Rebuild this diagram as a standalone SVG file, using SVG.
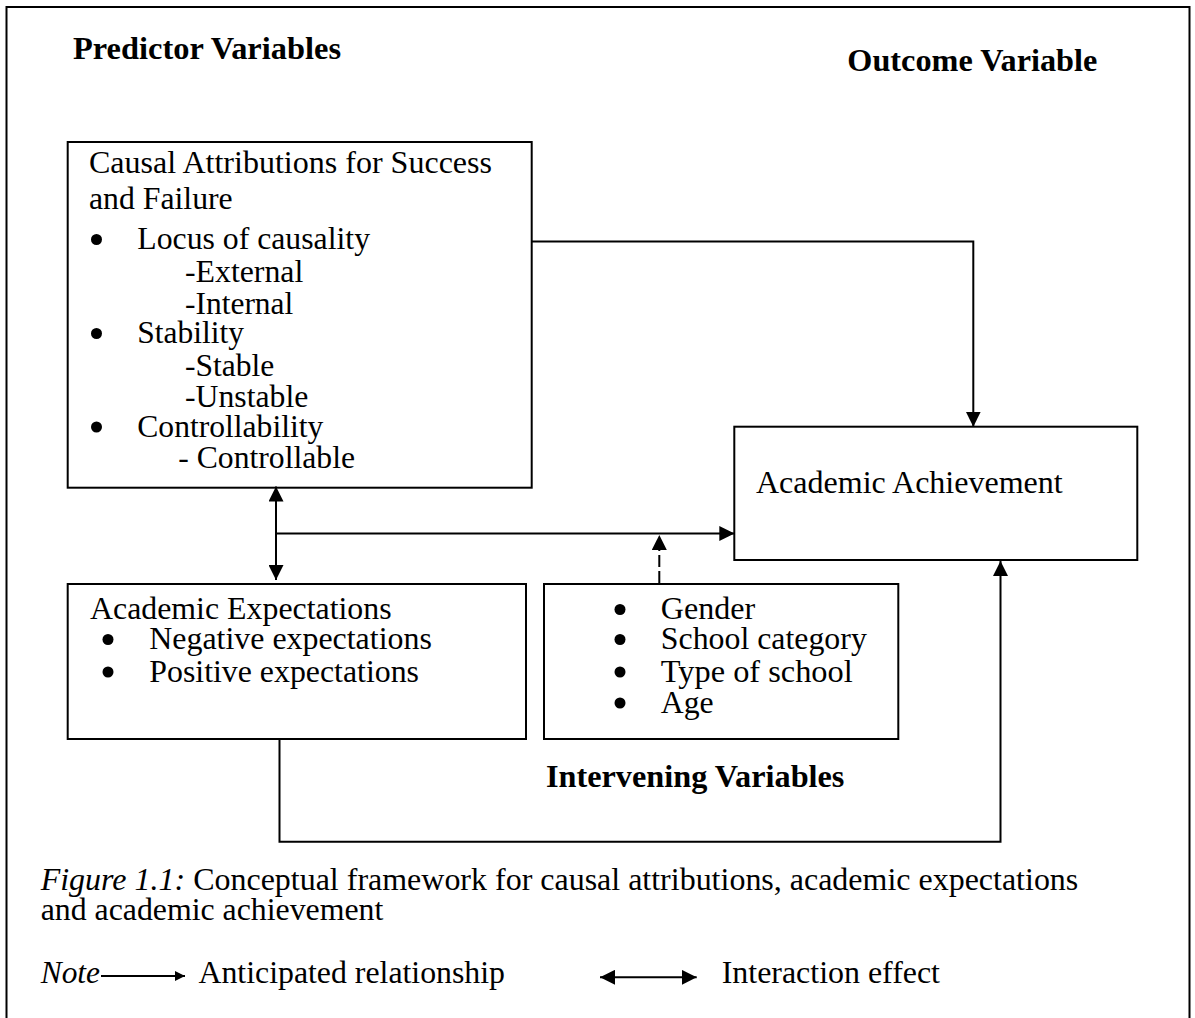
<svg xmlns="http://www.w3.org/2000/svg" width="1195" height="1018" viewBox="0 0 1195 1018">
<style>
text{font-family:"Liberation Serif","Times New Roman",serif;font-size:32px;fill:#000}
.b{font-weight:bold}
.i{font-style:italic}
.box{fill:#fff;stroke:#000;stroke-width:2}
.c{fill:none;stroke:#000;stroke-width:2}
.dot{fill:#000}
</style>
<defs>
<marker id="ah" markerUnits="userSpaceOnUse" markerWidth="15" markerHeight="15" refX="15" refY="7.5" orient="auto-start-reverse" viewBox="0 0 15 15">
<path d="M0,0 L15,7.5 L0,15 Z" fill="#000"/>
</marker>
<marker id="ahs" markerUnits="userSpaceOnUse" markerWidth="10" markerHeight="10" refX="10" refY="5" orient="auto" viewBox="0 0 10 10">
<path d="M0,0 L10,5 L0,10 Z" fill="#000"/>
</marker>
</defs>
<rect x="0" y="0" width="1195" height="1018" fill="#fff"/>
<path d="M6.5,1030 V7 H1189.5 V1030" fill="none" stroke="#000" stroke-width="2"/>

<g id="headings">
<text class="b" x="73" y="59" textLength="268" lengthAdjust="spacingAndGlyphs">Predictor Variables</text>
<text class="b" x="847.3" y="71" textLength="250" lengthAdjust="spacingAndGlyphs">Outcome Variable</text>
<text class="b" x="546" y="786.7" textLength="298.4" lengthAdjust="spacingAndGlyphs">Intervening Variables</text>
</g>

<g id="causal-attributions">
<rect class="box" x="67.7" y="142" width="464" height="345.7"/>
<text x="89" y="173.3" textLength="403" lengthAdjust="spacingAndGlyphs">Causal Attributions for Success</text>
<text x="89" y="209.3" textLength="143.7" lengthAdjust="spacingAndGlyphs">and Failure</text>
<circle class="dot" cx="96.5" cy="239.5" r="5.5"/>
<text x="137.3" y="249.3" textLength="232.7" lengthAdjust="spacingAndGlyphs">Locus of causality</text>
<text x="185" y="281.7" textLength="118.3" lengthAdjust="spacingAndGlyphs">-External</text>
<text x="185" y="314" textLength="108.3" lengthAdjust="spacingAndGlyphs">-Internal</text>
<circle class="dot" cx="96.5" cy="333.5" r="5.5"/>
<text x="137.3" y="343.3" textLength="106.7" lengthAdjust="spacingAndGlyphs">Stability</text>
<text x="185" y="376" textLength="89.3" lengthAdjust="spacingAndGlyphs">-Stable</text>
<text x="185" y="406.7" textLength="123.3" lengthAdjust="spacingAndGlyphs">-Unstable</text>
<circle class="dot" cx="96.5" cy="427" r="5.5"/>
<text x="137.3" y="436.7" textLength="186" lengthAdjust="spacingAndGlyphs">Controllability</text>
<text x="178.3" y="468.3" textLength="176.7" lengthAdjust="spacingAndGlyphs">- Controllable</text>
</g>

<g id="academic-achievement">
<rect class="box" x="734.3" y="426.7" width="403" height="133.3"/>
<text x="756" y="493.3" textLength="306.7" lengthAdjust="spacingAndGlyphs">Academic Achievement</text>
</g>

<g id="academic-expectations">
<rect class="box" x="67.7" y="584" width="458.3" height="155"/>
<text x="90" y="619.3" textLength="301.6" lengthAdjust="spacingAndGlyphs">Academic Expectations</text>
<circle class="dot" cx="108" cy="639.5" r="5.5"/>
<text x="149.3" y="649.3" textLength="282.5" lengthAdjust="spacingAndGlyphs">Negative expectations</text>
<circle class="dot" cx="108" cy="672" r="5.5"/>
<text x="149.3" y="681.7" textLength="269.7" lengthAdjust="spacingAndGlyphs">Positive expectations</text>
</g>

<g id="intervening-variables">
<rect class="box" x="544" y="584" width="354.3" height="155"/>
<circle class="dot" cx="620" cy="609.5" r="5.5"/>
<text x="660.8" y="619.3" textLength="94.4" lengthAdjust="spacingAndGlyphs">Gender</text>
<circle class="dot" cx="620" cy="639.5" r="5.5"/>
<text x="660.8" y="649.3" textLength="206" lengthAdjust="spacingAndGlyphs">School category</text>
<circle class="dot" cx="620" cy="672" r="5.5"/>
<text x="660.8" y="681.7" textLength="191.9" lengthAdjust="spacingAndGlyphs">Type of school</text>
<circle class="dot" cx="620" cy="703" r="5.5"/>
<text x="660.8" y="712.7" textLength="52.9" lengthAdjust="spacingAndGlyphs">Age</text>
</g>

<g id="connectors">
<path class="c" d="M531.7,241.5 H973.3 V426.7" marker-end="url(#ah)"/>
<path class="c" d="M276,486.5 V580" marker-start="url(#ah)" marker-end="url(#ah)"/>
<path class="c" d="M276,533.5 H734.3" marker-end="url(#ah)"/>
<path class="c" d="M659.3,583 V535" stroke-dasharray="12 4" marker-end="url(#ah)"/>
<path class="c" d="M279.5,739 V841.7 H1000.5 V561" marker-end="url(#ah)"/>
</g>

<g id="caption">
<text x="40.7" y="890" textLength="1037.6" lengthAdjust="spacingAndGlyphs"><tspan class="i">Figure 1.1:</tspan> Conceptual framework for causal attributions, academic expectations</text>
<text x="40.7" y="920" textLength="342.6" lengthAdjust="spacingAndGlyphs">and academic achievement</text>
</g>

<g id="legend">
<text class="i" x="40.7" y="983" textLength="59.3" lengthAdjust="spacingAndGlyphs">Note</text>
<path class="c" d="M101,976 H185" marker-end="url(#ahs)"/>
<text x="198.5" y="983" textLength="306.5" lengthAdjust="spacingAndGlyphs">Anticipated relationship</text>
<path class="c" d="M600,977.3 H696.7" marker-start="url(#ah)" marker-end="url(#ah)"/>
<text x="721.7" y="983.3" textLength="218.3" lengthAdjust="spacingAndGlyphs">Interaction effect</text>
</g>
</svg>
